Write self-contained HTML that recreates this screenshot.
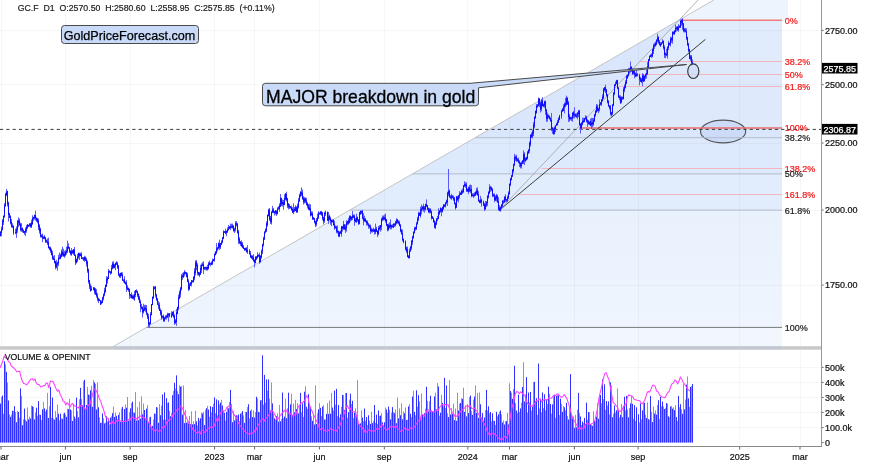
<!DOCTYPE html>
<html><head><meta charset="utf-8"><title>Gold chart</title>
<style>html,body{margin:0;padding:0;background:#fff;width:875px;height:465px;overflow:hidden}</style>
</head><body>
<svg width="875" height="465" viewBox="0 0 875 465" style="display:block">
<rect width="875" height="465" fill="#fff"/>
<polygon points="713.8,0 788,0 788,20.2 678.8,20.2" fill="#eef4fe"/>
<polygon points="678.8,20.2 782,20.2 782,137.7 475.1,137.7" fill="#d9e6fb"/>
<polygon points="475.1,137.7 782,137.7 782,173.9 412.4,173.9" fill="#dde9fc"/>
<polygon points="412.4,173.9 782,173.9 782,210.1 349.7,210.1" fill="#e1ecfc"/>
<defs><linearGradient id="g1" x1="0" y1="0" x2="0" y2="1"><stop offset="0" stop-color="#e9f1fd"/><stop offset="1" stop-color="#eef5fe"/></linearGradient></defs>
<polygon points="349.7,210.1 782,210.1 782,327.4 146.4,327.4" fill="url(#g1)"/>
<polygon points="146.4,327.4 782,327.4 782,346 114.1,346" fill="#f2f7fe"/>
<polygon points="679,20.2 782,20.2 782,61.7 639.8,61.7" fill="#e0ebfc"/>
<polygon points="639.8,61.7 782,61.7 782,127.9 577.2,127.9" fill="#dee9fc"/>
<path d="M1.5 0V346M1.5 350V446M65.5 0V346M65.5 350V446M130.5 0V346M130.5 350V446M214.5 0V346M214.5 350V446M254.5 0V346M254.5 350V446M319.5 0V346M319.5 350V446M384.5 0V346M384.5 350V446M467.5 0V346M467.5 350V446M509.5 0V346M509.5 350V446M574.5 0V346M574.5 350V446M638.5 0V346M638.5 350V446M739.5 0V346M739.5 350V446M800.5 0V346M800.5 350V446M0 30.5H821M0 84.5H821M0 143.5H821M0 210.5H821M0 285.5H821M0 427.5H821M0 412.5H821M0 397.5H821M0 382.5H821M0 367.5H821" stroke="#000" stroke-opacity="0.032" stroke-width="1" fill="none"/>
<ellipse cx="723.1" cy="131.5" rx="22.6" ry="11.4" fill="#cbdbf8" stroke="#555" stroke-width="1.15"/>
<line x1="475.1" y1="137.7" x2="782" y2="137.7" stroke="#b4bccb" stroke-width="1"/>
<line x1="412.4" y1="173.9" x2="782" y2="173.9" stroke="#b4bccb" stroke-width="1"/>
<line x1="349.7" y1="210.1" x2="782" y2="210.1" stroke="#b4bccb" stroke-width="1"/>
<line x1="146.4" y1="327.4" x2="782" y2="327.4" stroke="#787878" stroke-width="1"/>
<line x1="640.1" y1="61.5" x2="782" y2="61.5" stroke="#f4b4bc" stroke-width="1"/>
<line x1="628.2" y1="74.5" x2="782" y2="74.5" stroke="#f4b4bc" stroke-width="1"/>
<line x1="617.1" y1="86.5" x2="782" y2="86.5" stroke="#f4b4bc" stroke-width="1"/>
<line x1="541.6" y1="168.5" x2="782" y2="168.5" stroke="#f4b4bc" stroke-width="1"/>
<line x1="517.7" y1="194.5" x2="782" y2="194.5" stroke="#f4b4bc" stroke-width="1"/>
<line x1="679.5" y1="20.2" x2="782" y2="20.2" stroke="#f07a7a" stroke-width="1.4"/>
<line x1="579" y1="127.9" x2="782" y2="127.9" stroke="#ec6a6a" stroke-width="1.5"/>
<line x1="109.8" y1="348.5" x2="713.8" y2="0" stroke="#bdbdbd" stroke-width="0.9"/>
<line x1="499.4" y1="210.2" x2="698.1" y2="0" stroke="#a8a8a8" stroke-width="0.9"/>
<line x1="499.4" y1="210.2" x2="705.4" y2="39.4" stroke="#3c3c3c" stroke-width="1"/>
<line x1="0" y1="129.4" x2="823" y2="129.4" stroke="#3a3a3a" stroke-width="1" stroke-dasharray="3.2 3.1"/>
<path d="M-0.5 234.5V236.9M0.5 231.2V236.3M1.5 226.6V236.3M2.5 219V230.5M3.5 215.5V224.9M4.5 203.1V217.9M5.5 192.8V206.7M6.5 189V196.1M7.5 190.8V206.5M8.5 201.7V221.4M9.5 212.9V218.1M10.5 215.3V224.4M11.5 219V227.5M12.5 223.3V228.1M13.5 225.5V234.8M15.5 228.6V234.1M16.5 226.5V237.9M17.5 220V232.7M18.5 217.4V227.2M19.5 218.5V225.6M20.5 222.7V231.4M21.5 223.2V231.8M22.5 227.6V232.5M23.5 229.5V233.1M24.5 231V234.9M25.5 227.5V235.9M26.5 224.9V232.7M27.5 224V228.8M28.5 224.7V227M29.5 223.2V226.4M30.5 223.1V227.8M31.5 219.7V227.8M32.5 215.3V224.7M33.5 216.8V220.8M34.5 214.7V219.6M35.5 210.7V220.5M36.5 217.5V221.9M37.5 217.9V223.4M38.5 218.6V230M39.5 224.2V233.7M40.5 227.7V237.6M41.5 234.4V237.6M42.5 233.5V242.2M43.5 236.5V239.1M44.5 234.9V239.4M45.5 237.1V243M46.5 239.5V242.7M47.5 238.5V245.1M48.5 237.7V248.5M49.5 246.5V250.2M50.5 246.6V252.8M51.5 248.6V255.5M52.5 250.8V259.8M53.5 255.8V260M54.5 255.1V263.5M55.5 260.9V269.4M56.5 259.9V268.4M57.5 261.6V270.8M58.5 254.8V266.1M59.5 252.6V259.4M60.5 253.7V259.1M61.5 249.5V257.3M62.5 246.7V256.5M63.5 248.8V256.8M64.5 250.8V257.8M65.5 250V256.3M66.5 246.6V254.6M67.5 240.6V252.9M68.5 243.2V249.3M69.5 247.1V252.9M70.5 250.4V255.3M71.5 248V255.8M72.5 249.7V253.7M73.5 248.9V254.8M74.5 247V255.9M75.5 254.5V265M76.5 258.6V263.5M77.5 253.9V262.1M78.5 252.7V258.7M79.5 252.8V260M80.5 252.7V256.3M81.5 252.2V259.1M82.5 257.3V259.5M83.5 257.1V261M84.5 255.8V261.8M85.5 256.5V260.9M86.5 257.7V266.6M87.5 260.5V272.8M88.5 268.5V283.7M89.5 279.9V289M90.5 283.5V291.7M91.5 285.9V290.6M93.5 287.1V290.4M94.5 287.3V294.3M95.5 288V294.7M96.5 289.2V297.6M97.5 293.2V301.1M98.5 297.7V303.1M99.5 298.7V301.1M100.5 300.2V305M101.5 300.3V304.3M102.5 296.7V303.1M103.5 293.4V300.4M104.5 287.7V296.3M105.5 284.5V292.8M106.5 276.1V286.9M107.5 276.7V283.7M108.5 268.9V279.1M109.5 270.3V272.9M110.5 271.3V274.8M111.5 264.9V273.9M112.5 261.6V269.4M113.5 261.2V268.6M114.5 263.9V268.3M115.5 262.6V270.3M116.5 261.2V265M117.5 261.8V268.8M118.5 264.9V275.7M119.5 273.3V277.6M120.5 272.8V278.1M121.5 272.4V276.3M122.5 272.3V280.8M123.5 279.5V282.6M124.5 276.2V283.6M125.5 281.6V284.5M126.5 280.2V291.9M127.5 285.2V290.1M128.5 287.7V291.9M129.5 288.6V298.8M130.5 294.3V297.9M131.5 292.5V298.5M132.5 294.7V298.8M133.5 294.5V299.7M134.5 291V300.8M135.5 290V297.1M136.5 289.4V293M137.5 290.8V297M138.5 293.3V300.1M139.5 295.7V303.1M140.5 299.7V312.3M141.5 303.9V309.3M142.5 306.5V317.5M143.5 303.7V313.5M144.5 304.8V311.2M145.5 304.8V312.2M146.5 305V315.2M147.5 312.6V319M148.5 313.8V327.2M149.5 322.2V327.7M150.5 312.1V324.5M151.5 304V315.3M152.5 296.5V305.3M153.5 285.9V298.8M154.5 286.3V289.3M155.5 286.1V297.4M156.5 294.2V300.8M157.5 298.2V305M158.5 301.1V309.2M159.5 302.5V311M160.5 308.4V315.5M161.5 310V319.7M162.5 315.7V318.5M163.5 314.5V321.9M164.5 316.9V321.4M165.5 315.3V319.4M166.5 314.7V319.6M167.5 312.7V318M168.5 313V321.8M169.5 312.9V317.2M171.5 311.2V317.9M172.5 311.6V316.1M173.5 310.7V317.9M174.5 314.3V325M175.5 319.2V323.7M176.5 308.8V325.9M177.5 306.7V314.3M178.5 294.5V310.3M179.5 290.4V299.2M180.5 286.9V297.5M181.5 274.2V290.5M182.5 273V279.8M183.5 272.1V277.9M184.5 270.2V276.5M185.5 271.6V274.5M186.5 272V277.4M187.5 272.8V282.3M188.5 279.1V290.9M189.5 282.9V290.2M190.5 282.2V285.8M191.5 280V286.5M192.5 280V282.6M193.5 276.3V282.3M194.5 268.2V280.3M195.5 260.3V275.4M196.5 260.1V270.3M197.5 263.3V275.4M198.5 271.8V275.6M199.5 271.9V276.9M200.5 264.8V274.8M201.5 263.3V273M202.5 262.2V266.3M203.5 261.2V274.1M204.5 266.8V270M205.5 266.8V270.2M206.5 266.6V270.6M207.5 264.7V270.6M208.5 261.8V269.5M209.5 260.5V265.3M210.5 262.7V266.4M211.5 261.4V265.1M212.5 258.5V265M213.5 259.1V261.4M214.5 253.1V261.7M215.5 251.2V255.4M216.5 243.1V254.1M217.5 246.8V251.4M218.5 242.5V249.4M219.5 239.6V250.1M220.5 243V249M221.5 240.2V245M222.5 237V243.3M223.5 230.2V239.1M224.5 231.1V233M225.5 228.7V234.3M226.5 230.5V236.3M227.5 227.4V232.7M228.5 224.9V230.7M229.5 226V229.2M230.5 223.5V230.1M231.5 223.8V228.3M232.5 223.6V228.6M233.5 225.3V231.6M234.5 227.8V233M235.5 221.2V231.5M236.5 221.1V226.4M237.5 222.8V233.4M238.5 229.9V244.1M239.5 237.2V243.7M240.5 241.1V245.9M241.5 240.3V247M242.5 242V248.2M243.5 245.1V249.1M244.5 247.8V251M245.5 247.6V250.7M246.5 247.2V252.8M247.5 245.1V253.9M249.5 249.1V254.4M250.5 251V257.8M251.5 255.2V258.9M252.5 255.3V260.1M253.5 254.2V261.8M254.5 259.1V267.4M255.5 256.1V263.3M256.5 256.3V260.1M257.5 252.3V258.3M258.5 254.3V257M259.5 252.7V263.8M260.5 255.1V262.5M261.5 249.5V258.5M262.5 243.7V254.2M263.5 236.7V246.6M264.5 231.2V240M265.5 228.5V233.3M266.5 221.3V232.1M267.5 214.5V226.6M268.5 208.8V216.4M269.5 207.9V220.8M270.5 215.9V224M271.5 211.2V224.6M272.5 205.9V213.1M273.5 208V213.2M274.5 210.9V215.5M275.5 210V214.5M276.5 210.2V216.1M277.5 207.2V214.4M278.5 206.2V209.6M279.5 203.3V211.7M280.5 194V207.1M281.5 197.6V206.1M282.5 199.6V206.6M283.5 199.9V209.7M284.5 194.2V205.3M285.5 193V200.4M286.5 191.7V201.5M287.5 197.8V208.1M288.5 203V209.5M289.5 204.1V208.9M290.5 206V208.4M291.5 205.5V210.4M292.5 207.2V213.1M293.5 203.3V214.2M294.5 207V212.2M295.5 205.3V211.2M296.5 206.2V213M297.5 203.5V212.7M298.5 197.9V208.6M299.5 193.6V201.6M300.5 191.3V197.4M301.5 187.4V196.2M302.5 189.5V199.7M303.5 196.2V204.5M304.5 197V203.6M305.5 197.5V203.1M306.5 197.9V205.6M307.5 202.1V208.5M308.5 203.9V210.1M309.5 203.7V210.6M310.5 204.4V216.7M311.5 211.2V215.6M312.5 211.5V220M313.5 216.9V219.6M314.5 217.9V223.5M315.5 220.8V227.1M316.5 218V226.3M317.5 213.6V221.4M318.5 211.2V218.9M319.5 212.4V214.4M320.5 211.1V214.9M321.5 210.9V215.9M322.5 212V220.4M323.5 216.7V224.4M324.5 211.7V222.8M325.5 210.5V216M327.5 211.7V220.8M328.5 212V223.9M329.5 214.6V220.4M330.5 216.7V224.7M331.5 219.7V226.1M332.5 219.4V222.5M333.5 219.1V225.5M334.5 220.8V229.8M335.5 225.5V228.7M336.5 225.7V233.3M337.5 225.4V233.5M338.5 230.8V237.1M339.5 231.4V236.7M340.5 230.4V234M341.5 226V236.7M342.5 226.1V231.6M343.5 220.8V229.8M344.5 224V229.9M345.5 224.3V232.9M346.5 220.3V231.6M347.5 220.8V225.3M348.5 217.9V224.7M349.5 215.4V223.3M350.5 215.4V221.5M351.5 216.6V220.6M352.5 211V220M353.5 214.5V218M354.5 214.5V225.8M355.5 218V222.4M356.5 213.7V222.9M357.5 216.4V221.7M358.5 219V225M359.5 211.8V224.3M360.5 210.4V215M361.5 210.5V214M362.5 209.9V219.3M363.5 213.2V225.3M364.5 215.7V221.5M365.5 218V222.3M366.5 220.3V225.5M367.5 220.5V225.7M368.5 223V228.7M369.5 224.7V228.6M370.5 224.5V233.9M371.5 227.8V232.4M372.5 228.8V232.6M373.5 227.6V231.8M374.5 228.8V234.7M375.5 223.6V234.2M376.5 226.7V232M377.5 230.4V237.1M378.5 226.1V235.4M379.5 225.1V230.3M380.5 225V231.6M381.5 217.7V230.3M382.5 215.4V221.1M383.5 215.6V220.6M384.5 214.6V220.4M385.5 213.5V222.7M386.5 219V226.1M387.5 224V231.4M388.5 223.5V230.9M389.5 222.4V228.4M390.5 219.3V229.4M391.5 224.7V229.3M392.5 224.2V227.5M393.5 223.3V228.1M394.5 223.4V227M395.5 220.8V226.5M396.5 218.2V224.4M397.5 218.9V223.6M398.5 220.2V224.5M399.5 220.8V226.3M400.5 224.1V232.3M401.5 228.9V234.4M402.5 229.6V241.4M403.5 238.3V243.3M405.5 240.3V250.5M406.5 246.6V252.9M407.5 246.6V257.4M408.5 255.4V258.4M409.5 248.6V258.5M410.5 245.7V252M411.5 240.2V249.8M412.5 235.7V245.1M413.5 231.4V238.7M414.5 226.8V233.7M415.5 226.7V230.7M416.5 221.9V229.9M417.5 216.8V224.4M418.5 211.8V221.2M419.5 212.2V215.9M420.5 206.7V217.5M421.5 204.6V214.4M422.5 206V210.6M423.5 203.7V211.8M424.5 206V212.7M425.5 203.7V210.5M426.5 199.4V206.9M427.5 205V210.1M428.5 207.6V213M429.5 208.1V213.5M430.5 208.3V213.3M431.5 210.5V219.8M432.5 216.1V219M433.5 217.5V222.8M434.5 220V228.3M435.5 221.5V229M436.5 218.4V225M437.5 215.9V221.2M438.5 208.2V219.1M439.5 210V215M440.5 207.5V212.6M441.5 208.1V216.3M442.5 206.4V212.4M443.5 204.1V209.9M444.5 204.2V207.3M445.5 202V207.4M446.5 199.6V204.4M447.5 191.7V206M448.5 169V196.2M449.5 189.6V197.9M450.5 195.1V199.1M451.5 193.9V199.9M452.5 195.1V198.3M453.5 195.5V200.8M454.5 197V204.4M455.5 202.6V209.7M456.5 196V208M457.5 195.9V201.3M458.5 195.3V202.5M459.5 191.1V198.7M460.5 192.1V195.1M461.5 189.6V195M462.5 188.6V194M463.5 185.1V192.5M464.5 181.3V187M465.5 182.2V187.9M466.5 182.4V192M467.5 188.5V192.1M468.5 186.6V194.2M469.5 185V192.1M470.5 184.5V193.1M471.5 185.1V197.3M472.5 193.2V196.6M473.5 193.2V198M474.5 192.2V196.5M475.5 191.3V196M476.5 187.9V194.7M477.5 187.4V195.8M478.5 191.3V201.8M479.5 199.6V203.1M480.5 195.9V203.4M481.5 198.6V206.7M483.5 200.6V206M484.5 202.9V211.1M485.5 200.9V210M486.5 201.2V207M487.5 195.2V206.1M488.5 191.2V198.6M489.5 184.2V194M490.5 185.9V191.8M491.5 186.6V191.2M492.5 188.2V197.2M493.5 193.6V196.6M494.5 193.3V202.3M495.5 195.4V200.9M496.5 193.9V201.5M497.5 194.6V202.9M498.5 197.3V210.6M499.5 205.4V211.2M500.5 206.3V211.7M501.5 204V209.5M502.5 200.1V208.2M503.5 199.7V204M504.5 196.2V202.8M505.5 194.2V202.2M506.5 199V202.3M507.5 195.5V202.1M508.5 191.3V199.1M509.5 183.6V194.7M510.5 177.8V186.2M511.5 175.1V180.6M512.5 169.2V176.9M513.5 163.6V172.6M514.5 153.8V166.2M515.5 155.3V161M516.5 154.8V162M517.5 158.2V161.6M518.5 157.6V163.4M519.5 160.3V167.1M520.5 162.2V168.3M521.5 161.4V168.6M522.5 160.1V164.1M523.5 150.4V164.1M524.5 152.3V165M525.5 157.5V161.7M526.5 156.7V160.5M527.5 150.9V159.5M528.5 149.3V153.9M529.5 141.4V152.7M530.5 134.5V146.6M531.5 132.4V137.7M532.5 130V138.4M533.5 122.1V136.1M534.5 116.5V128.4M535.5 110.4V118.7M536.5 104.1V113.5M537.5 104.3V107.5M538.5 97.5V106.5M539.5 97.9V107M540.5 101.4V112.6M541.5 98.9V111.3M542.5 97.2V106.5M543.5 103.5V107.3M544.5 100.7V107.9M545.5 100.7V114.8M546.5 108.9V121.9M547.5 112.6V121.5M548.5 114.5V118.4M549.5 115.5V119.5M550.5 117.3V121.8M551.5 113V131.2M552.5 127V133.8M553.5 127.7V134.8M554.5 126.4V134.6M555.5 125.2V132.1M556.5 122.8V126M557.5 120V125.3M558.5 117.3V122.8M559.5 114.9V120.2M561.5 109.7V118.9M562.5 108.3V111.9M563.5 104.3V111.1M564.5 102.5V113.3M565.5 97.9V107.3M566.5 95.7V105.6M567.5 97V104.8M568.5 101V121.9M569.5 113.8V121.6M570.5 116.9V120.3M571.5 116.6V121M572.5 112.1V121.7M573.5 110.9V118.4M574.5 107.2V118.4M575.5 113.4V117.1M576.5 113.2V118M577.5 112.3V119.3M578.5 110.3V117.2M579.5 109.9V125.6M580.5 123V133.5M581.5 122.1V129.9M582.5 117.7V125.4M583.5 117.7V122.9M584.5 117.9V122.1M585.5 115.2V119.7M586.5 115.9V122.5M587.5 119.1V127M588.5 120V124.7M589.5 121.5V125.1M590.5 118.7V126.4M591.5 117.9V129M592.5 118V127.4M593.5 117.9V125.9M594.5 113.9V122.1M595.5 110.1V116.6M596.5 104V112.7M597.5 104.6V111.5M598.5 107.5V113.3M599.5 99.5V111.5M600.5 102V105.4M601.5 99V106M602.5 94.3V101.2M603.5 88.3V99M604.5 87V91.6M605.5 84.7V93.1M606.5 89V96.7M607.5 94V103.4M608.5 100.3V106.8M609.5 105.2V109.7M610.5 105V115.5M611.5 111.8V116.6M612.5 104.3V115.2M613.5 92.4V106.1M614.5 84V95.2M615.5 81.4V86.1M616.5 79.9V84.3M617.5 79.9V89.3M618.5 87V98M619.5 95.2V100.4M620.5 95.4V104M621.5 96.4V103.3M622.5 96.7V99.9M623.5 87.1V99.6M624.5 84.3V92.3M625.5 80.2V88.4M626.5 74.9V84.2M627.5 74.3V78.5M628.5 67.8V76.6M629.5 68V73.9M630.5 61.6V72.6M631.5 66.3V71.7M632.5 68.2V75M633.5 70.1V74.5M634.5 70.9V78.3M635.5 72.5V77.3M636.5 68.6V76.9M637.5 73.1V76.4M639.5 73.7V85.3M640.5 76.7V82M641.5 77.9V83.1M642.5 73.1V86.2M643.5 74V81.9M644.5 75.4V81.5M645.5 73.6V79.2M646.5 69.7V78.5M647.5 62.1V74.9M648.5 59.1V68.7M649.5 55.5V60.9M650.5 54.4V57.1M651.5 53.3V57.9M652.5 48.5V57.3M653.5 43.9V54M654.5 42.6V48.9M655.5 41.5V46.4M656.5 39.2V45.3M657.5 33.7V41.7M658.5 36.4V43.7M659.5 40.1V45.5M660.5 42V47M661.5 42.3V45.2M662.5 39.2V43.7M663.5 40.3V49.6M664.5 45.4V58M665.5 52.4V58.2M666.5 48.8V56.3M667.5 46.3V58.6M668.5 40.7V50.1M669.5 42.5V45.7M670.5 36.7V46.5M671.5 36.9V42.8M672.5 31.3V43.7M673.5 31.2V34.6M674.5 30.2V35M675.5 24.6V32.4M676.5 26.4V31.5M677.5 26.1V30.8M678.5 24.1V31.8M679.5 25.2V27.9M680.5 19.6V28M681.5 19.1V25.8M682.5 18.2V29.8M683.5 23V32.2M684.5 27.8V32.6M685.5 28V32.4M686.5 28.4V40.2M687.5 36.7V46M688.5 42.7V52.3M689.5 48.8V59.3M690.5 54.8V60.8M691.5 55.1V65.7M692.5 59.4V64.6" stroke="#5a5aff" stroke-width="1" fill="none"/>
<path d="M-0.5 234.9V236.3M0.5 231.7V236.2M1.5 229.2V233M2.5 220.5V229.7M3.5 215.8V221.9M4.5 205.1V216.8M5.5 193.8V206.2M6.5 191.6V195.2M7.5 191V204.4M8.5 202.7V214.9M9.5 213.4V218M10.5 216.3V223.4M11.5 221.9V226.6M12.5 225.5V227.1M13.5 225.9V233.2M15.5 232.1V233.3M16.5 228.9V233.5M17.5 221.4V229.9M18.5 220.3V222.8M19.5 220.6V225.3M20.5 224.1V229.9M21.5 228.2V230.1M22.5 228.1V231M23.5 230.1V232.7M24.5 231.1V233M25.5 229.1V232.4M26.5 227V230.6M27.5 224.6V228.3M28.5 225V226.6M29.5 223.7V226.2M30.5 223.5V226.6M31.5 222.4V227.2M32.5 218.3V224.3M33.5 217.1V218.9M34.5 215V218.3M35.5 214.9V218.7M36.5 217.7V220.8M37.5 219V221.8M38.5 220.5V227.1M39.5 225.5V231.2M40.5 229V236.5M41.5 235.1V236.9M42.5 235.5V238.4M43.5 236.8V238.8M44.5 236.4V238.6M45.5 237.2V241.7M46.5 240.3V242.2M47.5 241.4V243.4M48.5 242V248.1M49.5 246.9V249.2M50.5 247.5V251.1M51.5 249.7V254.9M52.5 253.3V258.7M53.5 257.7V259.8M54.5 258.8V263M55.5 261.1V267.3M56.5 263.2V267.2M57.5 262.4V264.6M58.5 257.9V263.4M59.5 257.3V258.9M60.5 255.1V258.8M61.5 251.5V256.9M62.5 251.5V255.1M63.5 252.9V256M64.5 253.8V256.2M65.5 251.8V255.2M66.5 250.7V253.1M67.5 246.5V251.3M68.5 246.6V248.1M69.5 247.2V252.1M70.5 250.9V254M71.5 250.7V254.5M72.5 250.7V253.3M73.5 249.7V253.3M74.5 249.4V255.7M75.5 255.1V262.8M76.5 259.1V262.9M77.5 256.4V260.5M78.5 252.9V257.4M79.5 253.3V256M80.5 254.1V255.9M81.5 254.1V258.7M82.5 257.5V258.7M83.5 257.6V259.9M84.5 257.2V259.8M85.5 257.4V260.7M86.5 259.4V263.7M87.5 261.8V271.3M88.5 269.5V281.8M89.5 280.1V286.3M90.5 285.6V290.9M91.5 288.6V290.4M93.5 287.5V289.8M94.5 287.7V291.8M95.5 289.5V294.5M96.5 292.7V296.1M97.5 295.6V299.2M98.5 298.6V300.9M99.5 299.5V300.8M100.5 300.6V304.8M101.5 301.5V303.8M102.5 297.5V302.6M103.5 294.3V298.7M104.5 290.7V295.2M105.5 284.9V291.9M106.5 278.7V286.8M107.5 277.5V280.5M108.5 271V279M109.5 271.1V272.6M110.5 271.4V273.5M111.5 268V273M112.5 263.5V268.6M113.5 263.7V267.7M114.5 264.7V267.9M115.5 262.9V266.1M116.5 262.7V264.4M117.5 263.4V267.8M118.5 265.8V275.4M119.5 274.4V276.9M120.5 272.9V276.5M121.5 272.8V275.7M122.5 274.5V280.6M123.5 279.6V280.9M124.5 279.4V283.2M125.5 281.8V284.3M126.5 282.8V288.6M127.5 287.6V289.7M128.5 287.9V290.1M129.5 289.1V295.4M130.5 294.4V295.7M131.5 294.5V298.1M132.5 296.1V298.6M133.5 295.9V298.4M134.5 294V299.4M135.5 290.2V294.8M136.5 290.3V291.6M137.5 291.1V295.2M138.5 293.9V299M139.5 297.5V302.5M140.5 301.7V306.7M141.5 306.6V308.8M142.5 307.1V312.2M143.5 308.9V312.4M144.5 307.4V310.3M145.5 307.7V309.4M146.5 308.3V313.7M147.5 313.2V317.5M148.5 316.4V324.7M149.5 322.4V325.1M150.5 314.2V323.8M151.5 304.1V315.1M152.5 296.9V305M153.5 287.4V298.3M154.5 287.2V288.8M155.5 286.5V295.3M156.5 294.4V300.1M157.5 298.6V304.7M158.5 304.5V306.1M159.5 305V310.9M160.5 310.1V313.9M161.5 312.2V317.6M162.5 315.8V317.4M163.5 316.1V320.5M164.5 318.1V321.3M165.5 316.8V318.3M166.5 316V317.4M167.5 314.2V317.3M168.5 313.8V315.5M169.5 313.6V316.5M171.5 314.1V317M172.5 312.1V315M173.5 312.1V316.9M174.5 315.6V322.9M175.5 320.5V323.3M176.5 312.2V322M177.5 306.9V314M178.5 297.2V308.4M179.5 292.6V298.4M180.5 288.2V294.1M181.5 275.7V289.3M182.5 275.6V277.2M183.5 273.5V277.2M184.5 271.7V274.2M185.5 272.1V273.6M186.5 272.6V276.8M187.5 274.7V281.7M188.5 280.7V289.4M189.5 284.7V289.2M190.5 282.6V285.6M191.5 280.4V283.8M192.5 280.8V282M193.5 276.9V282.2M194.5 271.2V278.4M195.5 262.4V273M196.5 261.6V266.2M197.5 264.8V273M198.5 272V274.7M199.5 273.1V275.4M200.5 268V274.6M201.5 264.8V270M202.5 264.4V265.8M203.5 264.1V269M204.5 267.2V268.8M205.5 267.1V268.5M206.5 267.2V269.4M207.5 267V269.4M208.5 263.5V268.6M209.5 262.9V264.9M210.5 263.1V264.4M211.5 262.3V264.8M212.5 260.3V263.7M213.5 259.2V261.1M214.5 254.2V260.3M215.5 251.7V255.1M216.5 248.3V253M217.5 247.5V249.4M218.5 243.1V248.2M219.5 243.4V247.7M220.5 243.2V247.3M221.5 241.6V244.5M222.5 237.4V242.1M223.5 231.5V238.9M224.5 231.4V232.7M225.5 231.1V233.4M226.5 230.9V232.9M227.5 229.2V232.4M228.5 227.2V229.7M229.5 226.5V228.7M230.5 226.3V227.8M231.5 226.2V227.6M232.5 225.5V227.7M233.5 225.9V231.2M234.5 228.7V230.7M235.5 223.1V229.3M236.5 223.3V224.8M237.5 224V233.2M238.5 231.6V240.5M239.5 238.9V243.3M240.5 241.7V244M241.5 242.6V246.1M242.5 243.8V248M243.5 246.6V249M244.5 248.1V249.9M245.5 248.1V250.2M246.5 248.3V251.6M247.5 249.9V252.2M249.5 250.7V254.3M250.5 253.6V257.2M251.5 255.7V258M252.5 256.2V258.6M253.5 257.3V260.9M254.5 260V262.7M255.5 257.1V263.1M256.5 256.5V259.3M257.5 255V258M258.5 254.9V256.3M259.5 255V262.2M260.5 256V262.2M261.5 250.9V257.5M262.5 244.1V251.7M263.5 238.1V244.7M264.5 231.7V239.4M265.5 229.4V232.3M266.5 223.3V230.8M267.5 214.9V225M268.5 209.8V216.1M269.5 209.6V219.5M270.5 217.8V221.8M271.5 211.8V222.3M272.5 209.4V212.8M273.5 209.5V212.3M274.5 211.4V213M275.5 210.5V213M276.5 211V214M277.5 208.7V213.9M278.5 207.5V209.2M279.5 205.2V209.2M280.5 197.9V206.6M281.5 198.2V204.4M282.5 201.9V203.9M283.5 202.2V205M284.5 198V204.9M285.5 193.8V199.4M286.5 194V199.9M287.5 198.3V205.8M288.5 203.8V207.2M289.5 205.6V207.6M290.5 206.6V208.3M291.5 207.4V210.3M292.5 209.1V212.6M293.5 209.5V212.3M294.5 208.8V210.6M295.5 207.2V211M296.5 207.3V211.9M297.5 206.2V212.2M298.5 200.7V207.5M299.5 194.9V201.5M300.5 191.7V196M301.5 192.2V194.2M302.5 192.6V199.2M303.5 197.8V202.2M304.5 198.7V201.8M305.5 198.5V201.5M306.5 200.5V204.9M307.5 203.4V206M308.5 205.2V209.3M309.5 207.4V209.9M310.5 208.2V215.8M311.5 213V215.3M312.5 213.4V219M313.5 217.7V219.4M314.5 218.3V222.3M315.5 221.3V224.7M316.5 219.7V224.5M317.5 217.6V220.8M318.5 212.4V218.2M319.5 213V214.3M320.5 211.6V214M321.5 212V214.7M322.5 212.6V218.4M323.5 217.6V221.6M324.5 212.8V221M325.5 212.3V214.3M327.5 211.8V220.6M328.5 216.6V220.9M329.5 215.8V219.8M330.5 218V221.3M331.5 219.8V222.5M332.5 220.5V222.1M333.5 219.8V225.2M334.5 223.7V228.1M335.5 226.5V228.1M336.5 227V231.7M337.5 230.5V232M338.5 231.1V236.1M339.5 231.9V236.5M340.5 231.6V233.4M341.5 226.4V233.8M342.5 226.5V229M343.5 224.5V228.7M344.5 224.7V229.4M345.5 226.8V229.9M346.5 222.5V228.2M347.5 220.9V223.8M348.5 220.5V223.8M349.5 216.3V222.9M350.5 216.1V219.5M351.5 216.7V219.7M352.5 215.4V218.2M353.5 215.5V217.5M354.5 215.7V221.1M355.5 219.5V221.9M356.5 217.4V221.9M357.5 217.4V220.7M358.5 219.8V223.8M359.5 212.5V223.8M360.5 211V214M361.5 211V212.5M362.5 211V218.5M363.5 217.6V221.2M364.5 218.6V221.3M365.5 219V221.7M366.5 220.7V223.1M367.5 222V224.5M368.5 223.8V226M369.5 224.9V227M370.5 226.1V231.4M371.5 229.3V231.4M372.5 229.6V231.2M373.5 229.6V231.6M374.5 229.5V231.9M375.5 228.8V232.4M376.5 228.7V231.7M377.5 230.7V234.1M378.5 228.1V234M379.5 226.8V229.4M380.5 225.2V228.5M381.5 218.9V226.4M382.5 217.8V219.9M383.5 216.9V219.5M384.5 217.1V219.4M385.5 217.5V221M386.5 219.4V225.6M387.5 224.1V229.7M388.5 225.1V230.1M389.5 225.1V227.8M390.5 224.5V227.2M391.5 225.1V227.4M392.5 225.9V227.2M393.5 223.8V227.4M394.5 223.7V225.3M395.5 221.8V225.4M396.5 219.9V223.3M397.5 219.6V222.7M398.5 221.6V223.3M399.5 222.4V226.1M400.5 224.9V231.4M401.5 230.2V234.2M402.5 233.1V240.2M403.5 239.2V242.5M405.5 241.1V249.2M406.5 247.5V251.2M407.5 249.3V256.9M408.5 255.6V258.2M409.5 250.6V258M410.5 246.9V251M411.5 240.7V248.3M412.5 236.5V242.2M413.5 231.8V237.8M414.5 228.1V232.9M415.5 227.2V229.1M416.5 223.6V229.1M417.5 218.7V224.3M418.5 213.2V219.6M419.5 213V215.7M420.5 209.5V216M421.5 208.3V210.8M422.5 206.7V209.3M423.5 206.3V209.6M424.5 207.3V209.5M425.5 204.2V209.5M426.5 204V206.7M427.5 205.2V209.9M428.5 208.2V212M429.5 209.3V211.9M430.5 209.1V212.6M431.5 211.5V218.1M432.5 216.4V218.8M433.5 218.2V222M434.5 221.3V227.5M435.5 223.1V227.6M436.5 218.5V224.5M437.5 218.2V219.5M438.5 212V218.9M439.5 210.3V213.6M440.5 207.7V211.6M441.5 208.7V211.7M442.5 207.2V212M443.5 204.6V208.7M444.5 204.8V206.5M445.5 202.5V206.6M446.5 200.5V203.1M447.5 192.8V202.4M448.5 190.8V194.4M449.5 190.5V197M450.5 196.5V197.8M451.5 195.6V198.4M452.5 196V197.8M453.5 197.1V199.5M454.5 198.3V203.8M455.5 203V208.1M456.5 196.6V207.3M457.5 196.7V200M458.5 195.4V199.5M459.5 193.7V196.4M460.5 193V194.7M461.5 191V194.6M462.5 190.9V192.8M463.5 185.3V192.3M464.5 184.2V186.2M465.5 184.3V186.1M466.5 184.5V190.7M467.5 188.8V191.4M468.5 187.6V191.8M469.5 187.3V191.3M470.5 189.3V191.2M471.5 189V196.1M472.5 194.6V196M473.5 194.8V196.1M474.5 193.9V196.3M475.5 192V195.3M476.5 190.4V193.9M477.5 190V195.1M478.5 194.1V201M479.5 200.4V202.8M480.5 199.7V202.8M481.5 199.6V202.5M483.5 201.6V205.5M484.5 204.3V209.3M485.5 204.1V209M486.5 202.1V205M487.5 195.9V203.2M488.5 191.9V197.4M489.5 187.4V192.9M490.5 186.9V188.6M491.5 187.4V190.1M492.5 189.2V195.7M493.5 194.6V196.2M494.5 195V200.1M495.5 197.1V200.7M496.5 195.5V198.5M497.5 195.9V202.2M498.5 201.2V209.5M499.5 207.5V210.6M500.5 207.3V210.8M501.5 204.9V208.4M502.5 201V206M503.5 201.2V202.5M504.5 196.9V202.3M505.5 196.6V200.1M506.5 199.1V200.4M507.5 196.9V200.8M508.5 192.9V198.3M509.5 183.7V193.9M510.5 178.6V184.8M511.5 175.3V179.7M512.5 169.5V176.6M513.5 164.2V171M514.5 157V164.8M515.5 156.8V158.8M516.5 156.6V160.2M517.5 158.9V161.1M518.5 159.7V162.3M519.5 161.5V163.8M520.5 163V166.5M521.5 163.4V166.1M522.5 160.5V164M523.5 154.2V162.1M524.5 153.7V160.7M525.5 158.1V161.2M526.5 157.1V160.1M527.5 152.3V158.7M528.5 149.6V153.5M529.5 142.9V150.8M530.5 134.8V144.5M531.5 134.4V137.2M532.5 131.6V136.7M533.5 124.7V133.5M534.5 116.7V126.5M535.5 111V118.3M536.5 105.7V113.2M537.5 104.6V107.2M538.5 98.7V105.9M539.5 98.9V104.6M540.5 103.3V109.7M541.5 100.6V109.2M542.5 100.5V106.1M543.5 104.3V106.2M544.5 101.4V105.8M545.5 101.2V110.8M546.5 110V119M547.5 114.9V118.8M548.5 115.5V117M549.5 116V119.1M550.5 118.4V121M551.5 119.9V129.4M552.5 127.8V130.2M553.5 129.4V133.8M554.5 127.6V133.6M555.5 125.5V129.4M556.5 124V125.6M557.5 121.8V125.1M558.5 118.4V122.7M559.5 115.3V119.7M561.5 111.1V116.5M562.5 108.6V111.4M563.5 106.5V111M564.5 104.1V107.3M565.5 103.1V105.5M566.5 97.8V104.7M567.5 98.1V104.3M568.5 102.5V117.2M569.5 115.9V119.2M570.5 117.3V118.9M571.5 117.5V119M572.5 113V118.6M573.5 112.2V115.6M574.5 113.8V115.7M575.5 114.3V116.5M576.5 115.4V116.7M577.5 112.7V116.6M578.5 110.6V114M579.5 110.5V125M580.5 124.1V128.4M581.5 123.3V128.4M582.5 120.8V124.7M583.5 120.4V122.3M584.5 118.1V121.9M585.5 117.5V118.9M586.5 117V121.6M587.5 120.3V122.4M588.5 121.2V124.1M589.5 121.9V124.3M590.5 121V125.6M591.5 122.6V125.2M592.5 122.2V124.6M593.5 119.8V124.2M594.5 114.6V120.9M595.5 111.1V115.7M596.5 105.8V112.4M597.5 106.5V111M598.5 108.9V110.8M599.5 104.2V109.5M600.5 102.7V104.7M601.5 99.7V104.2M602.5 96.7V101.1M603.5 88.5V98M604.5 87.2V90M605.5 87.3V91.1M606.5 89.6V95.6M607.5 94.7V102.5M608.5 100.7V106.4M609.5 105.7V108.1M610.5 106.6V114.1M611.5 112.3V115.1M612.5 104.4V113.6M613.5 92.5V105.7M614.5 85V93.8M615.5 83.3V85.9M616.5 80.4V84M617.5 80.1V88.5M618.5 87.6V97.5M619.5 96.3V98.2M620.5 97.2V102.9M621.5 97.4V102.2M622.5 96.9V98.6M623.5 88.9V98.9M624.5 86.2V90.2M625.5 82V87.7M626.5 76.2V83.3M627.5 74.9V78.3M628.5 69.1V76M629.5 68.8V71.2M630.5 66.9V71.5M631.5 66.8V71.2M632.5 70.8V73.9M633.5 70.5V73.4M634.5 71.2V74.5M635.5 73.2V76.2M636.5 74V76M637.5 74.3V75.6M639.5 75.1V79.5M640.5 78.2V81.6M641.5 79.4V82.1M642.5 75.4V80.9M643.5 75.3V81.6M644.5 76.1V81.1M645.5 74.3V76.9M646.5 73V75M647.5 66.4V74.1M648.5 59.2V67.7M649.5 56.2V60.6M650.5 54.8V56.9M651.5 54.8V56.4M652.5 49.1V56.4M653.5 45.2V51M654.5 44.6V46.3M655.5 43V46.2M656.5 40.1V44.4M657.5 37.4V41.3M658.5 36.9V42.6M659.5 41.6V45.1M660.5 43.8V46M661.5 42.5V44.6M662.5 41.3V43.1M663.5 41V47.9M664.5 46.8V55.1M665.5 53.3V55.1M666.5 54V55.4M667.5 47V55.3M668.5 42.8V48M669.5 43.2V44.9M670.5 38.7V44.3M671.5 38.3V40.3M672.5 32.1V40.6M673.5 32V34.2M674.5 30.8V33.9M675.5 28V32.1M676.5 27V28.8M677.5 26.8V30.4M678.5 26.5V30.1M679.5 26.1V27.7M680.5 21V27.5M681.5 20.2V22.8M682.5 19.7V24.6M683.5 23.5V31M684.5 29.5V31.2M685.5 29.8V31.8M686.5 31.3V38.5M687.5 37.2V44.8M688.5 43.9V50.8M689.5 49.2V58.6M690.5 56.4V59M691.5 56.7V62.7M692.5 62.2V63.5" stroke="#1010ff" stroke-width="1" fill="none"/>
<rect x="61.5" y="25.5" width="137" height="18" rx="3" fill="#c9d9f8" stroke="#4a4a4a" stroke-width="1"/>
<text x="63.8" y="39.6" font-family="Liberation Sans, Arial, sans-serif" font-size="13" fill="#000" stroke="#000" stroke-width="0.25" textLength="131.4" lengthAdjust="spacingAndGlyphs">GoldPriceForecast.com</text>
<path d="M265.5 83.3 H470 L686.6 64.5 L478.5 87.8 V102.8 Q478.5 105.8 475.5 105.8 H265.5 Q262.5 105.8 262.5 102.8 V86.3 Q262.5 83.3 265.5 83.3 Z" fill="#c9d9f8" stroke="#4a4a4a" stroke-width="1"/>
<text x="266" y="102.5" font-family="Liberation Sans, Arial, sans-serif" font-size="18.6" fill="#000" stroke="#000" stroke-width="0.3" textLength="209.3" lengthAdjust="spacingAndGlyphs">MAJOR breakdown in gold</text>
<ellipse cx="693.3" cy="71.2" rx="5.6" ry="7.3" fill="#cddcf8" fill-opacity="0.7" stroke="#333" stroke-width="1.1"/>
<text x="784.7" y="23.6" font-family="Liberation Sans, Arial, sans-serif" font-size="9" fill="#f51818" stroke="#f51818" stroke-width="0.22">0%</text>
<text x="784.7" y="64.9" font-family="Liberation Sans, Arial, sans-serif" font-size="9" fill="#f51818" stroke="#f51818" stroke-width="0.22">38.2%</text>
<text x="784.7" y="77.9" font-family="Liberation Sans, Arial, sans-serif" font-size="9" fill="#f51818" stroke="#f51818" stroke-width="0.22">50%</text>
<text x="784.7" y="90.2" font-family="Liberation Sans, Arial, sans-serif" font-size="9" fill="#f51818" stroke="#f51818" stroke-width="0.22">61.8%</text>
<text x="784.7" y="172.2" font-family="Liberation Sans, Arial, sans-serif" font-size="9" fill="#f51818" stroke="#f51818" stroke-width="0.22">138.2%</text>
<text x="784.7" y="197.9" font-family="Liberation Sans, Arial, sans-serif" font-size="9" fill="#f51818" stroke="#f51818" stroke-width="0.22">161.8%</text>
<text x="784.7" y="141.1" font-family="Liberation Sans, Arial, sans-serif" font-size="9" fill="#222" stroke="#222" stroke-width="0.22">38.2%</text>
<text x="784.7" y="177.3" font-family="Liberation Sans, Arial, sans-serif" font-size="9" fill="#222" stroke="#222" stroke-width="0.22">50%</text>
<text x="784.7" y="213.5" font-family="Liberation Sans, Arial, sans-serif" font-size="9" fill="#222" stroke="#222" stroke-width="0.22">61.8%</text>
<text x="784.7" y="330.8" font-family="Liberation Sans, Arial, sans-serif" font-size="9" fill="#222" stroke="#222" stroke-width="0.22">100%</text>
<text x="784.7" y="131.3" font-family="Liberation Sans, Arial, sans-serif" font-size="9" fill="#f51818" stroke="#f51818" stroke-width="0.22">100%</text>
<rect x="0" y="346.2" width="821" height="3.5" fill="#c9c9c9"/>
<rect x="113.8" y="346.2" width="668.2" height="3.5" fill="#a8c0f0" fill-opacity="0.22"/>
<path d="M0.5 403.5V442.6M2.5 395.6V442.6M4.5 361.3V442.6M6.5 371.9V442.6M8.5 400.4V442.6M10.5 416.8V442.6M12.5 410.8V442.6M14.5 406.2V442.6M16.5 422.2V442.6M18.5 412V442.6M20.5 388.4V442.6M22.5 425.2V442.6M24.5 408.6V442.6M26.5 421.3V442.6M28.5 419.4V442.6M30.5 418.5V442.6M32.5 406.3V442.6M34.5 419.4V442.6M36.5 407.7V442.6M38.5 401.2V442.6M40.5 414.9V442.6M42.5 409.3V442.6M44.5 408.4V442.6M46.5 409.5V442.6M48.5 418V442.6M50.5 386.9V442.6M52.5 397.5V442.6M54.5 419.6V442.6M56.5 417.4V442.6M58.5 413.7V442.6M60.5 413.7V442.6M62.5 418.9V442.6M64.5 412.8V442.6M66.5 416.8V442.6M68.5 409.1V442.6M70.5 409.5V442.6M72.5 420.9V442.6M74.5 416.6V442.6M76.5 397.6V442.6M78.5 417.3V442.6M80.5 387.9V442.6M82.5 405.2V442.6M84.5 379.8V442.6M86.5 405V442.6M88.5 394.7V442.6M90.5 390.3V442.6M92.5 406.9V442.6M94.5 382.4V442.6M96.5 409.5V442.6M98.5 407.3V442.6M100.5 423V442.6M102.5 413.4V442.6M104.5 423.4V442.6M106.5 416.2V442.6M108.5 418.6V442.6M110.5 417.6V442.6M112.5 413.2V442.6M114.5 417V442.6M116.5 415.8V442.6M118.5 414.8V442.6M120.5 422V442.6M122.5 406.9V442.6M124.5 409.1V442.6M126.5 407.8V442.6M128.5 420.7V442.6M130.5 408.3V442.6M132.5 401.7V442.6M134.5 412.9V442.6M136.5 420.5V442.6M138.5 420.1V442.6M140.5 418.7V442.6M142.5 414.3V442.6M144.5 410V442.6M146.5 408.6V442.6M148.5 422.7V442.6M150.5 416.8V442.6M152.5 425.9V442.6M154.5 413.5V442.6M156.5 407.1V442.6M158.5 422.8V442.6M160.5 415.2V442.6M162.5 394.5V442.6M164.5 392.4V442.6M166.5 398.2V442.6M168.5 402.4V442.6M170.5 416.3V442.6M172.5 395.1V442.6M174.5 382.8V442.6M176.5 375.4V442.6M178.5 394.2V442.6M180.5 386.6V442.6M182.5 414.7V442.6M184.5 423.1V442.6M186.5 422.7V442.6M188.5 423.4V442.6M190.5 424.1V442.6M192.5 424.4V442.6M194.5 424.1V442.6M196.5 421.3V442.6M198.5 417.9V442.6M200.5 418.3V442.6M202.5 413.5V442.6M204.5 425V442.6M206.5 408.2V442.6M208.5 409.5V442.6M210.5 406.2V442.6M212.5 407V442.6M214.5 397.4V442.6M216.5 399.4V442.6M218.5 400.4V442.6M220.5 402.6V442.6M222.5 405.5V442.6M224.5 412.7V442.6M226.5 411.8V442.6M228.5 408.3V442.6M230.5 389.9V442.6M232.5 422.2V442.6M234.5 420.4V442.6M236.5 415.3V442.6M238.5 414.5V442.6M240.5 413.7V442.6M242.5 411.1V442.6M244.5 422.9V442.6M246.5 411.9V442.6M248.5 404.3V442.6M250.5 410.8V442.6M252.5 417V442.6M254.5 417.5V442.6M256.5 396.7V442.6M258.5 411.8V442.6M260.5 400.4V442.6M262.5 355.3V442.6M264.5 374.9V442.6M266.5 379.4V442.6M268.5 379.4V442.6M270.5 410.4V442.6M272.5 403.4V442.6M274.5 418.3V442.6M276.5 416.1V442.6M278.5 421.6V442.6M280.5 421.3V442.6M282.5 392.6V442.6M284.5 416.6V442.6M286.5 418.2V442.6M288.5 392.7V442.6M290.5 404.3V442.6M292.5 414.8V442.6M294.5 412.4V442.6M296.5 409V442.6M298.5 413.4V442.6M300.5 392.9V442.6M302.5 403.4V442.6M304.5 391.7V442.6M306.5 406.8V442.6M308.5 394.2V442.6M310.5 407.6V442.6M312.5 420.9V442.6M314.5 424.5V442.6M316.5 424V442.6M318.5 409.4V442.6M320.5 407.9V442.6M322.5 406.6V442.6M324.5 419.5V442.6M326.5 413.9V442.6M328.5 413.9V442.6M330.5 413.7V442.6M332.5 407.6V442.6M334.5 390.7V442.6M336.5 388.9V442.6M338.5 405V442.6M340.5 414.3V442.6M342.5 395V442.6M344.5 410V442.6M346.5 392.9V442.6M348.5 412.2V442.6M350.5 393.7V442.6M352.5 400.8V442.6M354.5 412.6V442.6M356.5 415V442.6M358.5 424.2V442.6M360.5 423.4V442.6M362.5 417.5V442.6M364.5 408.5V442.6M366.5 417V442.6M368.5 415.3V442.6M370.5 423.9V442.6M372.5 423.1V442.6M374.5 405V442.6M376.5 414.6V442.6M378.5 410.5V442.6M380.5 415.7V442.6M382.5 422.3V442.6M384.5 422.2V442.6M386.5 409.5V442.6M388.5 406.5V442.6M390.5 419.4V442.6M392.5 407.1V442.6M394.5 413.2V442.6M396.5 423.2V442.6M398.5 418.4V442.6M400.5 415.2V442.6M402.5 419.3V442.6M404.5 413.3V442.6M406.5 420V442.6M408.5 406.4V442.6M410.5 413.7V442.6M412.5 396.5V442.6M414.5 411.9V442.6M416.5 390.3V442.6M418.5 395.2V442.6M420.5 417.6V442.6M422.5 414.9V442.6M424.5 413.3V442.6M426.5 386.8V442.6M428.5 411.4V442.6M430.5 395.7V442.6M432.5 411.3V442.6M434.5 396.4V442.6M436.5 409.3V442.6M438.5 386.5V442.6M440.5 412.7V442.6M442.5 402.9V442.6M444.5 377.9V442.6M446.5 385.4V442.6M448.5 417.1V442.6M450.5 414.5V442.6M452.5 414V442.6M454.5 420.1V442.6M456.5 420.8V442.6M458.5 410.6V442.6M460.5 403V442.6M462.5 398.9V442.6M464.5 411.8V442.6M466.5 416.4V442.6M468.5 413.1V442.6M470.5 395.6V442.6M472.5 414.8V442.6M474.5 396.6V442.6M476.5 413V442.6M478.5 417.8V442.6M480.5 404.3V442.6M482.5 413.1V442.6M484.5 417.5V442.6M486.5 389.9V442.6M488.5 406.3V442.6M490.5 412V442.6M492.5 413.3V442.6M494.5 420.9V442.6M496.5 411.8V442.6M498.5 414.3V442.6M500.5 410.5V442.6M502.5 422.6V442.6M504.5 424.5V442.6M506.5 421.1V442.6M508.5 424.4V442.6M510.5 391V442.6M512.5 398.8V442.6M514.5 365.8V442.6M516.5 410.5V442.6M518.5 394.7V442.6M520.5 408.4V442.6M522.5 387V442.6M524.5 401.5V442.6M526.5 377.1V442.6M528.5 392.6V442.6M530.5 391.9V442.6M532.5 406.5V442.6M534.5 381.8V442.6M536.5 398.2V442.6M538.5 363.6V442.6M540.5 398.7V442.6M542.5 392.5V442.6M544.5 394.3V442.6M546.5 399.5V442.6M548.5 386.7V442.6M550.5 404V442.6M552.5 404.4V442.6M554.5 395.2V442.6M556.5 396V442.6M558.5 395.3V442.6M560.5 398.7V442.6M562.5 411.8V442.6M564.5 407.3V442.6M566.5 402.9V442.6M568.5 419.5V442.6M570.5 374.1V442.6M572.5 418.5V442.6M574.5 427.8V442.6M576.5 427.3V442.6M578.5 392.9V442.6M580.5 416.5V442.6M582.5 421.6V442.6M584.5 417.9V442.6M586.5 402.7V442.6M588.5 412V442.6M590.5 424V442.6M592.5 425.8V442.6M594.5 421V442.6M596.5 416.7V442.6M598.5 418.8V442.6M600.5 395.1V442.6M602.5 379.4V442.6M604.5 384.3V442.6M606.5 401.1V442.6M608.5 401.4V442.6M610.5 382.4V442.6M612.5 417.2V442.6M614.5 405.6V442.6M616.5 410.3V442.6M618.5 410.6V442.6M620.5 414.8V442.6M622.5 417.1V442.6M624.5 396.7V442.6M626.5 395.9V442.6M628.5 417.3V442.6M630.5 403.4V442.6M632.5 403.8V442.6M634.5 405.2V442.6M636.5 407.3V442.6M638.5 414.2V442.6M640.5 403.5V442.6M642.5 410.3V442.6M644.5 402.7V442.6M646.5 418V442.6M648.5 419.2V442.6M650.5 395.9V442.6M652.5 422V442.6M654.5 413.5V442.6M656.5 414.6V442.6M658.5 400.3V442.6M660.5 396.7V442.6M662.5 401.6V442.6M664.5 409V442.6M666.5 403.1V442.6M668.5 416.3V442.6M670.5 406.5V442.6M672.5 408.7V442.6M674.5 410.2V442.6M676.5 417.1V442.6M678.5 395.9V442.6M680.5 404.2V442.6M682.5 413.7V442.6M684.5 409.4V442.6M686.5 384.7V442.6M688.5 398.4V442.6M690.5 386.9V442.6M692.5 384V442.6" stroke="#3030ff" stroke-width="1" fill="none"/>
<path d="M1.5 396.8V442.6M3.5 413.8V442.6M5.5 364.3V442.6M7.5 382.4V442.6M9.5 414.4V442.6M11.5 414.7V442.6M13.5 410.9V442.6M15.5 412V442.6M17.5 411V442.6M19.5 417.6V442.6M21.5 395.9V442.6M23.5 419.2V442.6M25.5 419.7V442.6M27.5 407.4V442.6M29.5 416.6V442.6M31.5 405.5V442.6M33.5 407V442.6M35.5 412.4V442.6M37.5 415.7V442.6M39.5 414.6V442.6M41.5 420.2V442.6M43.5 401.9V442.6M45.5 411.5V442.6M47.5 392.9V442.6M49.5 406.1V442.6M51.5 417.8V442.6M53.5 418.5V442.6M55.5 411V442.6M57.5 404.7V442.6M59.5 420.3V442.6M61.5 418.4V442.6M63.5 413.7V442.6M65.5 414.7V442.6M67.5 408.7V442.6M69.5 398.8V442.6M71.5 410.4V442.6M73.5 404.1V442.6M75.5 418.6V442.6M77.5 411.1V442.6M79.5 399.3V442.6M81.5 399.1V442.6M83.5 381.1V442.6M85.5 409V442.6M87.5 386.9V442.6M89.5 394.8V442.6M91.5 385.8V442.6M93.5 380.1V442.6M95.5 383.9V442.6M97.5 382.4V442.6M99.5 417.4V442.6M101.5 422.5V442.6M103.5 418.2V442.6M105.5 422.5V442.6M107.5 421.6V442.6M109.5 424.5V442.6M111.5 416.4V442.6M113.5 406.5V442.6M115.5 412.5V442.6M117.5 420V442.6M119.5 412.2V442.6M121.5 408.5V442.6M123.5 422.3V442.6M125.5 404.5V442.6M127.5 397V442.6M129.5 412.2V442.6M131.5 403V442.6M133.5 412.2V442.6M135.5 392.1V442.6M137.5 407.2V442.6M139.5 401.7V442.6M141.5 396.4V442.6M143.5 403.5V442.6M145.5 419V442.6M147.5 405.1V442.6M149.5 417.4V442.6M151.5 426.2V442.6M153.5 419.6V442.6M155.5 413.9V442.6M157.5 407.5V442.6M159.5 404.1V442.6M161.5 405.6V442.6M163.5 419.7V442.6M165.5 419.7V442.6M167.5 402.9V442.6M169.5 410.8V442.6M171.5 413.1V442.6M173.5 390.9V442.6M175.5 388.6V442.6M177.5 391.1V442.6M179.5 385.4V442.6M181.5 386.2V442.6M183.5 385.4V442.6M185.5 409.8V442.6M187.5 421.4V442.6M189.5 415.9V442.6M191.5 411.3V442.6M193.5 421.2V442.6M195.5 410.7V442.6M197.5 425.3V442.6M199.5 420.4V442.6M201.5 412.6V442.6M203.5 411.9V442.6M205.5 409.7V442.6M207.5 405.9V442.6M209.5 416.8V442.6M211.5 412.4V442.6M213.5 403.7V442.6M215.5 413.3V442.6M217.5 415.3V442.6M219.5 404.5V442.6M221.5 399.8V442.6M223.5 410.2V442.6M225.5 420.6V442.6M227.5 407.1V442.6M229.5 402V442.6M231.5 403.9V442.6M233.5 410.9V442.6M235.5 417.1V442.6M237.5 415.5V442.6M239.5 421.2V442.6M241.5 412.6V442.6M243.5 415.4V442.6M245.5 411.9V442.6M247.5 407V442.6M249.5 418.5V442.6M251.5 409.3V442.6M253.5 410.4V442.6M255.5 412V442.6M257.5 398.5V442.6M259.5 412.3V442.6M261.5 400V442.6M263.5 404.6V442.6M265.5 402.5V442.6M267.5 390.8V442.6M269.5 398.7V442.6M271.5 382.4V442.6M273.5 413.8V442.6M275.5 419.5V442.6M277.5 413.5V442.6M279.5 404.8V442.6M281.5 419.1V442.6M283.5 418.2V442.6M285.5 398.5V442.6M287.5 408.2V442.6M289.5 413.2V442.6M291.5 393.6V442.6M293.5 403.6V442.6M295.5 399.8V442.6M297.5 403.2V442.6M299.5 406.2V442.6M301.5 412.3V442.6M303.5 416.9V442.6M305.5 386.2V442.6M307.5 408.9V442.6M309.5 404.8V442.6M311.5 416.3V442.6M313.5 414.3V442.6M315.5 385.4V442.6M317.5 413.3V442.6M319.5 403.1V442.6M321.5 415.9V442.6M323.5 405.1V442.6M325.5 419.4V442.6M327.5 403.1V442.6M329.5 400.5V442.6M331.5 392.8V442.6M333.5 410.5V442.6M335.5 404.7V442.6M337.5 416.1V442.6M339.5 417.4V442.6M341.5 406.7V442.6M343.5 395.1V442.6M345.5 393.1V442.6M347.5 417.9V442.6M349.5 399.6V442.6M351.5 404V442.6M353.5 418.2V442.6M355.5 408.2V442.6M357.5 380.1V442.6M359.5 424V442.6M361.5 410.4V442.6M363.5 421.3V442.6M365.5 420.8V442.6M367.5 424.9V442.6M369.5 420.6V442.6M371.5 411.7V442.6M373.5 420.9V442.6M375.5 422.8V442.6M377.5 423.9V442.6M379.5 415.8V442.6M381.5 413.2V442.6M383.5 425V442.6M385.5 407.5V442.6M387.5 412.9V442.6M389.5 410V442.6M391.5 412.6V442.6M393.5 412V442.6M395.5 409.5V442.6M397.5 397.6V442.6M399.5 408.4V442.6M401.5 403.3V442.6M403.5 411.4V442.6M405.5 407.4V442.6M407.5 419.7V442.6M409.5 404.1V442.6M411.5 416.9V442.6M413.5 390.7V442.6M415.5 415.3V442.6M417.5 406.7V442.6M419.5 401.4V442.6M421.5 393.5V442.6M423.5 416.7V442.6M425.5 408.7V442.6M427.5 400.9V442.6M429.5 401.2V442.6M431.5 410.3V442.6M433.5 412V442.6M435.5 392.7V442.6M437.5 383V442.6M439.5 415.6V442.6M441.5 394.8V442.6M443.5 406.5V442.6M445.5 408.1V442.6M447.5 413.3V442.6M449.5 380.1V442.6M451.5 408.1V442.6M453.5 403.5V442.6M455.5 408.5V442.6M457.5 392.6V442.6M459.5 403.7V442.6M461.5 398.2V442.6M463.5 387.7V442.6M465.5 405.6V442.6M467.5 404.2V442.6M469.5 397V442.6M471.5 410.9V442.6M473.5 399.7V442.6M475.5 385.4V442.6M477.5 392.9V442.6M479.5 392.4V442.6M481.5 417V442.6M483.5 420.3V442.6M485.5 410.1V442.6M487.5 410.5V442.6M489.5 413.3V442.6M491.5 421.4V442.6M493.5 420.7V442.6M495.5 424.9V442.6M497.5 416.3V442.6M499.5 411.6V442.6M501.5 414.3V442.6M503.5 420.5V442.6M505.5 421.2V442.6M507.5 412.8V442.6M509.5 383.2V442.6M511.5 392.7V442.6M513.5 389.1V442.6M515.5 403.1V442.6M517.5 412.9V442.6M519.5 412.1V442.6M521.5 402.7V442.6M523.5 362.1V442.6M525.5 394.3V442.6M527.5 412.5V442.6M529.5 402.5V442.6M531.5 410.5V442.6M533.5 382.2V442.6M535.5 401.2V442.6M537.5 414.8V442.6M539.5 408.4V442.6M541.5 412.2V442.6M543.5 408.2V442.6M545.5 410.3V442.6M547.5 404.2V442.6M549.5 394V442.6M551.5 413.6V442.6M553.5 396.5V442.6M555.5 417.8V442.6M557.5 394.7V442.6M559.5 415V442.6M561.5 403.7V442.6M563.5 406V442.6M565.5 410.4V442.6M567.5 416.1V442.6M569.5 407.5V442.6M571.5 415.4V442.6M573.5 416.5V442.6M575.5 414.8V442.6M577.5 409.7V442.6M579.5 413.2V442.6M581.5 424.9V442.6M583.5 423.1V442.6M585.5 424.6V442.6M587.5 419.9V442.6M589.5 412.3V442.6M591.5 424.7V442.6M593.5 411.2V442.6M595.5 420.9V442.6M597.5 402.8V442.6M599.5 396.7V442.6M601.5 403.3V442.6M603.5 399.1V442.6M605.5 409.8V442.6M607.5 405.5V442.6M609.5 414.5V442.6M611.5 385.4V442.6M613.5 413.6V442.6M615.5 412.6V442.6M617.5 388.4V442.6M619.5 417.5V442.6M621.5 404V442.6M623.5 405.9V442.6M625.5 410.4V442.6M627.5 409.5V442.6M629.5 408V442.6M631.5 395.9V442.6M633.5 418.8V442.6M635.5 420.8V442.6M639.5 422.3V442.6M641.5 419.4V442.6M643.5 402.9V442.6M645.5 414.7V442.6M647.5 402.4V442.6M649.5 419.6V442.6M651.5 411.9V442.6M653.5 406.5V442.6M655.5 410.4V442.6M657.5 405.1V442.6M659.5 419.2V442.6M661.5 406.3V442.6M663.5 406.4V442.6M665.5 407.8V442.6M667.5 403.7V442.6M669.5 417.2V442.6M671.5 405.9V442.6M673.5 407.2V442.6M675.5 405.2V442.6M677.5 421V442.6M679.5 407.2V442.6M681.5 409.2V442.6M683.5 383.9V442.6M685.5 399.5V442.6M687.5 376.4V442.6M689.5 406.9V442.6M691.5 386.1V442.6" stroke="#8a8aff" stroke-width="1" fill="none"/>
<polyline points="0,368 1.4,364.5 2.8,361 4.2,355.9 5.6,357.9 7,357.9 8.4,361.6 9.8,362.4 11.2,365.7 12.6,367 14,368.2 15.4,369.7 16.8,371.8 18.2,371.4 19.6,371.2 21,377 22.4,381.4 23.8,383.6 25.2,383.8 26.6,384.9 28,383.3 29.4,381 30.8,379.3 32.2,378.6 33.6,380.5 35,379 36.4,383.3 37.8,384.5 39.2,384.5 40.6,386.9 42,386.6 43.4,385.6 44.8,385.8 46.2,382.9 47.6,383.3 49,388 50.4,381.1 51.8,381.3 53.2,381.7 54.6,385.2 56,388.5 57.4,391.3 58.8,390 60.2,394.5 61.6,396.9 63,401 64.4,401.5 65.8,405 67.2,402.6 68.6,404.3 70,407.1 71.4,404.2 72.8,403.6 74.2,405.7 75.6,406.4 77,407.1 78.4,408 79.8,405.6 81.2,406.2 82.6,405.7 84,407.7 85.4,409 86.8,408.8 88.2,404.9 89.6,405.3 91,400.5 92.4,394.8 93.8,389.9 95.2,389 96.6,391.2 98,394.9 99.4,398.7 100.8,401.3 102.2,406.3 103.6,409.6 105,415 106.4,417.9 107.8,418 109.2,421.6 110.6,423.6 112,421 113.4,424.3 114.8,422.7 116.2,421.7 117.6,419.6 119,420.9 120.4,420.7 121.8,421.8 123.2,421.3 124.6,421.5 126,421 127.4,420.7 128.8,419.3 130.2,420.1 131.6,416.6 133,417.8 134.4,418.6 135.8,417.8 137.2,419.5 138.6,417.4 140,415.7 141.4,416.9 142.8,417.3 144.2,417.7 145.6,418.5 147,419.4 148.4,422.3 149.8,424.1 151.2,427.9 152.6,429.3 154,431.2 155.4,429.8 156.8,430.1 158.2,431.1 159.6,431 161,430.4 162.4,427.8 163.8,425.8 165.2,427.7 166.6,422 168,421.1 169.4,419.1 170.8,419.3 172.2,416.9 173.6,412.7 175,413.8 176.4,410.1 177.8,409.8 179.2,408.3 180.6,406 182,407.2 183.4,410.3 184.8,414.5 186.2,417.2 187.6,420.2 189,423.4 190.4,425.8 191.8,427.3 193.2,430 194.6,430.5 196,433 197.4,432.2 198.8,431.9 200.2,434.3 201.6,430 203,430.5 204.4,432.4 205.8,431.7 207.2,429.3 208.6,428 210,427.5 211.4,426.5 212.8,427.5 214.2,426 215.6,422 217,418.5 218.4,420.4 219.8,414.8 221.2,411.9 222.6,410.4 224,410.9 225.4,410.6 226.8,407.4 228.2,406.4 229.6,405.5 231,406.4 232.4,412 233.8,414.1 235.2,416.1 236.6,418 238,422 239.4,424.9 240.8,426.3 242.2,428.8 243.6,429.5 245,431.7 246.4,432.8 247.8,433.5 249.2,434.4 250.6,433.5 252,432.8 253.4,433.5 254.8,430.3 256.2,429.8 257.6,425.9 259,424.2 260.4,420.9 261.8,419.8 263.2,418.6 264.6,421 266,417.8 267.4,417.2 268.8,415 270.2,412.2 271.6,410 273,411.4 274.4,413.7 275.8,416.6 277.2,420.1 278.6,418.2 280,415.7 281.4,414.1 282.8,412.3 284.2,411 285.6,409.3 287,411.8 288.4,413.2 289.8,413 291.2,414.9 292.6,416.3 294,414.3 295.4,415.7 296.8,411.8 298.2,406.9 299.6,405 301,403 302.4,402.6 303.8,401.5 305.2,399.3 306.6,395.8 308,397.7 309.4,404.3 310.8,408.5 312.2,411.3 313.6,415 315,417.6 316.4,420.6 317.8,423.4 319.2,428 320.6,429.7 322,427.8 323.4,429.2 324.8,430.8 326.2,430.9 327.6,431.2 329,430 330.4,428.6 331.8,429.1 333.2,430.2 334.6,430.4 336,431.3 337.4,429.4 338.8,427.1 340.2,425 341.6,420.3 343,417.6 344.4,412.8 345.8,408.4 347.2,405.4 348.6,408.5 350,407.9 351.4,410.6 352.8,411.8 354.2,411.7 355.6,412.2 357,417.4 358.4,422.4 359.8,426.7 361.2,425.8 362.6,428.9 364,429.8 365.4,433 366.8,431.7 368.2,429.9 369.6,430.9 371,430.4 372.4,430.9 373.8,431.3 375.2,430.3 376.6,428.6 378,429.3 379.4,428.6 380.8,426.2 382.2,424.2 383.6,427.4 385,428.4 386.4,429.9 387.8,429.5 389.2,428.2 390.6,426.6 392,426.8 393.4,426.4 394.8,427.2 396.2,425.9 397.6,428.6 399,429.3 400.4,431.2 401.8,430.9 403.2,429.8 404.6,428 406,429.2 407.4,428.9 408.8,430.1 410.2,427.7 411.6,429 413,428.4 414.4,426.8 415.8,424.8 417.2,422.9 418.6,420.2 420,420.3 421.4,414.7 422.8,414.6 424.2,416.1 425.6,414 427,410.5 428.4,409.6 429.8,411 431.2,411.6 432.6,411.6 434,412.1 435.4,411.7 436.8,410.2 438.2,410.4 439.6,407.5 441,405.7 442.4,404.5 443.8,405.3 445.2,404.4 446.6,405 448,404.5 449.4,408.2 450.8,409.1 452.2,412.6 453.6,413.8 455,416.4 456.4,416 457.8,416.3 459.2,413.5 460.6,411.4 462,410.1 463.4,408.5 464.8,407.9 466.2,405.7 467.6,405.7 469,407 470.4,405.8 471.8,408.4 473.2,408.7 474.6,408 476,410.3 477.4,412 478.8,414.5 480.2,417.7 481.6,418.6 483,421.7 484.4,424 485.8,426.8 487.2,431.3 488.6,434 490,435.1 491.4,433.1 492.8,433.5 494.2,433.7 495.6,435.3 497,435.7 498.4,438.3 499.8,438.3 501.2,440.5 502.6,438.7 504,436.5 505.4,436.9 506.8,438 508.2,434.3 509.6,422.3 511,412.5 512.4,405.8 513.8,402.1 515.2,393.9 516.6,391.6 518,391.9 519.4,393.6 520.8,391.7 522.2,393.2 523.6,394.5 525,395.5 526.4,401 527.8,403.9 529.2,404.9 530.6,406.3 532,406.2 533.4,404.6 534.8,403.5 536.2,400.8 537.6,401.2 539,398.9 540.4,399.5 541.8,401.7 543.2,400.4 544.6,399.3 546,399.9 547.4,399.9 548.8,397.7 550.2,398 551.6,398.2 553,396.1 554.4,394.9 555.8,395.6 557.2,393.7 558.6,394.5 560,396.3 561.4,397.3 562.8,396.7 564.2,394.5 565.6,396.6 567,398.9 568.4,403.4 569.8,407.5 571.2,413.4 572.6,417.8 574,420.3 575.4,422.4 576.8,425.5 578.2,427.9 579.6,429.8 581,427.5 582.4,428.7 583.8,428.7 585.2,424.7 586.6,423.5 588,423.6 589.4,424.5 590.8,424.3 592.2,423.4 593.6,422.6 595,419.9 596.4,413.9 597.8,406.5 599.2,396.9 600.6,391.2 602,385.1 603.4,378.3 604.8,373.7 606.2,372.6 607.6,376.6 609,379.8 610.4,387.7 611.8,395.3 613.2,402.6 614.6,403.7 616,405.6 617.4,406.9 618.8,411.3 620.2,411 621.6,411.4 623,407.5 624.4,405.1 625.8,405.3 627.2,398.1 628.6,394.7 630,395.5 631.4,395.7 632.8,396.8 634.2,399.5 635.6,399.7 637,400.3 638.4,400.5 639.8,400.8 641.2,403.4 642.6,403.7 644,401.2 645.4,398.6 646.8,393.4 648.2,391.4 649.6,392.3 651,389.3 652.4,385.5 653.8,385.1 655.2,386.3 656.6,391.2 658,391.7 659.4,394.6 660.8,396.1 662.2,397.2 663.6,397.2 665,397.8 666.4,395 667.8,392.5 669.2,391.4 670.6,386.8 672,383.8 673.4,383.1 674.8,379.9 676.2,381 677.6,383.9 679,381 680.4,376.9 681.8,379.3 683.2,382.5 684.6,384.2 686,386.3 687.4,388.8 688.8,390 690.2,391.4" fill="none" stroke="#ff3cff" stroke-width="1.05" stroke-linejoin="round"/>
<rect x="821" y="0" width="1" height="447" fill="#999"/>
<rect x="0" y="446" width="822" height="1" fill="#8a8a8a"/>
<text x="825" y="33.7" font-family="Liberation Sans, Arial, sans-serif" font-size="9" fill="#111" stroke="#111" stroke-width="0.22">2750.00</text>
<text x="825" y="88" font-family="Liberation Sans, Arial, sans-serif" font-size="9" fill="#111" stroke="#111" stroke-width="0.22">2500.00</text>
<text x="825" y="146.3" font-family="Liberation Sans, Arial, sans-serif" font-size="9" fill="#111" stroke="#111" stroke-width="0.22">2250.00</text>
<text x="825" y="213.4" font-family="Liberation Sans, Arial, sans-serif" font-size="9" fill="#111" stroke="#111" stroke-width="0.22">2000.00</text>
<text x="825" y="288.4" font-family="Liberation Sans, Arial, sans-serif" font-size="9" fill="#111" stroke="#111" stroke-width="0.22">1750.00</text>
<text x="825" y="370.7" font-family="Liberation Sans, Arial, sans-serif" font-size="9" fill="#111" stroke="#111" stroke-width="0.22">500k</text>
<text x="825" y="385.7" font-family="Liberation Sans, Arial, sans-serif" font-size="9" fill="#111" stroke="#111" stroke-width="0.22">400k</text>
<text x="825" y="400.8" font-family="Liberation Sans, Arial, sans-serif" font-size="9" fill="#111" stroke="#111" stroke-width="0.22">300k</text>
<text x="825" y="415.8" font-family="Liberation Sans, Arial, sans-serif" font-size="9" fill="#111" stroke="#111" stroke-width="0.22">200k</text>
<text x="825" y="430.9" font-family="Liberation Sans, Arial, sans-serif" font-size="9" fill="#111" stroke="#111" stroke-width="0.22">100.0k</text>
<text x="825" y="445.9" font-family="Liberation Sans, Arial, sans-serif" font-size="9" fill="#111" stroke="#111" stroke-width="0.22">0</text>
<path d="M822 30.4H823.6M822 84.7H823.6M822 143H823.6M822 210.1H823.6M822 285.1H823.6M822 367.4H823.6M822 382.4H823.6M822 397.5H823.6M822 412.5H823.6M822 427.6H823.6M822 442.6H823.6M1 447V449.5M65.4 447V449.5M130.2 447V449.5M214.6 447V449.5M254.6 447V449.5M319.4 447V449.5M384.3 447V449.5M467.8 447V449.5M509.5 447V449.5M574.4 447V449.5M638.1 447V449.5M739.7 447V449.5M800 447V449.5" stroke="#666" stroke-width="1" fill="none"/>
<text x="1" y="460.2" font-family="Liberation Sans, Arial, sans-serif" font-size="9" fill="#111" stroke="#111" stroke-width="0.2" text-anchor="middle">mar</text>
<text x="65.4" y="460.2" font-family="Liberation Sans, Arial, sans-serif" font-size="9" fill="#111" stroke="#111" stroke-width="0.2" text-anchor="middle">jun</text>
<text x="130.2" y="460.2" font-family="Liberation Sans, Arial, sans-serif" font-size="9" fill="#111" stroke="#111" stroke-width="0.2" text-anchor="middle">sep</text>
<text x="214.6" y="460.2" font-family="Liberation Sans, Arial, sans-serif" font-size="9" fill="#111" stroke="#111" stroke-width="0.2" text-anchor="middle">2023</text>
<text x="254.6" y="460.2" font-family="Liberation Sans, Arial, sans-serif" font-size="9" fill="#111" stroke="#111" stroke-width="0.2" text-anchor="middle">mar</text>
<text x="319.4" y="460.2" font-family="Liberation Sans, Arial, sans-serif" font-size="9" fill="#111" stroke="#111" stroke-width="0.2" text-anchor="middle">jun</text>
<text x="384.3" y="460.2" font-family="Liberation Sans, Arial, sans-serif" font-size="9" fill="#111" stroke="#111" stroke-width="0.2" text-anchor="middle">sep</text>
<text x="467.8" y="460.2" font-family="Liberation Sans, Arial, sans-serif" font-size="9" fill="#111" stroke="#111" stroke-width="0.2" text-anchor="middle">2024</text>
<text x="509.5" y="460.2" font-family="Liberation Sans, Arial, sans-serif" font-size="9" fill="#111" stroke="#111" stroke-width="0.2" text-anchor="middle">mar</text>
<text x="574.4" y="460.2" font-family="Liberation Sans, Arial, sans-serif" font-size="9" fill="#111" stroke="#111" stroke-width="0.2" text-anchor="middle">jun</text>
<text x="638.1" y="460.2" font-family="Liberation Sans, Arial, sans-serif" font-size="9" fill="#111" stroke="#111" stroke-width="0.2" text-anchor="middle">sep</text>
<text x="739.7" y="460.2" font-family="Liberation Sans, Arial, sans-serif" font-size="9" fill="#111" stroke="#111" stroke-width="0.2" text-anchor="middle">2025</text>
<text x="800" y="460.2" font-family="Liberation Sans, Arial, sans-serif" font-size="9" fill="#111" stroke="#111" stroke-width="0.2" text-anchor="middle">mar</text>
<rect x="822" y="62.9" width="35.5" height="10.6" fill="#000"/>
<text x="823.4" y="71.5" font-family="Liberation Sans, Arial, sans-serif" font-size="9" fill="#fff" stroke="#fff" stroke-width="0.25">2575.85</text>
<rect x="822" y="123.9" width="35.5" height="10.6" fill="#000"/>
<text x="823.4" y="132.5" font-family="Liberation Sans, Arial, sans-serif" font-size="9" fill="#fff" stroke="#fff" stroke-width="0.25">2306.87</text>
<text x="17.7" y="10.6" font-family="Liberation Sans, Arial, sans-serif" font-size="8.8" fill="#222" stroke="#222" stroke-width="0.2" textLength="256.9" lengthAdjust="spacingAndGlyphs" xml:space="preserve">GC.F  D1  O:2570.50  H:2580.60  L:2558.95  C:2575.85  (+0.11%)</text>
<text x="4.7" y="359.8" font-family="Liberation Sans, Arial, sans-serif" font-size="8.7" fill="#111" stroke="#111" stroke-width="0.2">VOLUME &amp; OPENINT</text>
</svg>
</body></html>
